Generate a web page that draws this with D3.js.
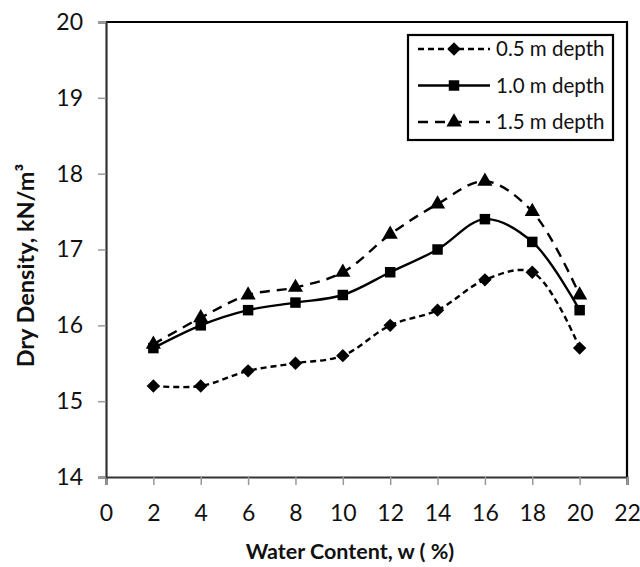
<!DOCTYPE html>
<html>
<head>
<meta charset="utf-8">
<script src="https://cdn.jsdelivr.net/npm/d3@7"></script>
<style>
  html, body { margin: 0; padding: 0; background: #fff; }
  svg { display: block; }
  text { font-family: Lato, "Open Sans", sans-serif; fill: #111; }
</style>
</head>
<body>
<div id="chart"></div>
<script>
// Water content (%) at which each sample was tested
const waterContent = [2, 4, 6, 8, 10, 12, 14, 16, 18, 20];
// Dry density (kN/m³) for each sampling depth
const depth05 = [15.2, 15.2, 15.4, 15.5, 15.6, 16.0, 16.2, 16.6, 16.7, 15.7];
const depth10 = [15.7, 16.0, 16.2, 16.3, 16.4, 16.7, 17.0, 17.4, 17.1, 16.2];
const depth15 = [15.75, 16.1, 16.4, 16.5, 16.7, 17.2, 17.6, 17.9, 17.5, 16.4];
const seriesNames = ["0.5 m depth", "1.0 m depth", "1.5 m depth"];
const xTicks = [0, 2, 4, 6, 8, 10, 12, 14, 16, 18, 20, 22];
const yTicks = [14, 15, 16, 17, 18, 19, 20];

const W = 640, H = 567;
const m = { left: 106, right: 13, top: 22, bottom: 90 };

const svg = d3.select("#chart").append("svg").attr("width", W).attr("height", H);

const x = d3.scaleLinear().domain([0, 22]).range([m.left, W - m.right]);
const y = d3.scaleLinear().domain([14, 20]).range([H - m.bottom, m.top]);

// frame: top and right edges
svg.append("path")
  .attr("d", `M${x(0)},${y(20)}H${x(22)}V${y(14)}`)
  .attr("fill", "none").attr("stroke", "#000").attr("stroke-width", 2.2);

// axes
const xAxis = svg.append("g").attr("transform", `translate(0,${y(14)})`)
  .call(d3.axisBottom(x).tickValues(xTicks).tickFormat(d3.format("d")).tickSize(8).tickPadding(20));
const yAxis = svg.append("g").attr("transform", `translate(${x(0)},0)`)
  .call(d3.axisLeft(y).tickValues(yTicks).tickFormat(d3.format("d")).tickSize(8).tickPadding(15));
[xAxis, yAxis].forEach(g => {
  g.select(".domain").attr("stroke", "#333").attr("stroke-width", 2.2);
  g.selectAll(".tick line").attr("stroke", "#999").attr("stroke-width", 1.5);
  g.selectAll(".tick text").style("font-size", "23px").attr("fill", "#1a1a1a")
    .style("font-family", "Lato, 'Open Sans', sans-serif");
});

// axis titles
svg.append("text")
  .attr("x", 350).attr("y", 559)
  .attr("text-anchor", "middle")
  .style("font-size", "21.5px").style("font-weight", "bold")
  .text("Water Content, w ( %)");
svg.append("text")
  .attr("transform", `translate(34,${(y(14) + y(20)) / 2 + 16}) rotate(-90)`)
  .attr("text-anchor", "middle")
  .style("font-size", "23.5px").style("font-weight", "bold")
  .text("Dry Density, kN/m³");

const diamond = { draw(ctx, size) { const r = Math.sqrt(size / 2); ctx.moveTo(0, -r); ctx.lineTo(r, 0); ctx.lineTo(0, r); ctx.lineTo(-r, 0); ctx.closePath(); } };

const series = [
  { name: seriesNames[0], values: depth05, dash: "6,4", marker: diamond, size: 90 },
  { name: seriesNames[1], values: depth10, dash: null, marker: d3.symbolSquare, size: 110 },
  { name: seriesNames[2], values: depth15, dash: "10,7", marker: d3.symbolTriangle, size: 100 }
];

const line = d3.line()
  .x((d, i) => x(waterContent[i]))
  .y(d => y(d))
  .curve(d3.curveCatmullRom.alpha(0.5));

series.forEach(s => {
  svg.append("path")
    .attr("d", line(s.values))
    .attr("fill", "none").attr("stroke", "#000").attr("stroke-width", 2.4)
    .attr("stroke-dasharray", s.dash);
  svg.selectAll(null).data(s.values).enter().append("path")
    .attr("transform", (d, i) => `translate(${x(waterContent[i])},${y(d)})`)
    .attr("d", d3.symbol().type(s.marker).size(s.size))
    .attr("fill", "#000");
});

// legend
const lg = svg.append("g").attr("transform", "translate(408,35)");
lg.append("rect").attr("width", 205).attr("height", 105)
  .attr("fill", "#fff").attr("stroke", "#000").attr("stroke-width", 2.2);
series.forEach((s, i) => {
  const cy = 14 + i * 36.5;
  const row = lg.append("g").attr("transform", `translate(0,${cy})`);
  row.append("line").attr("x1", 10).attr("x2", 82).attr("y1", 0).attr("y2", 0)
    .attr("stroke", "#000").attr("stroke-width", 2.4).attr("stroke-dasharray", s.dash);
  row.append("path").attr("transform", "translate(46,0)")
    .attr("d", d3.symbol().type(s.marker).size(s.size)).attr("fill", "#000");
  row.append("text").attr("x", 88).attr("y", 0).attr("dy", "0.35em")
    .style("font-size", "20.5px").text(s.name);
});
</script>
</body>
</html>
